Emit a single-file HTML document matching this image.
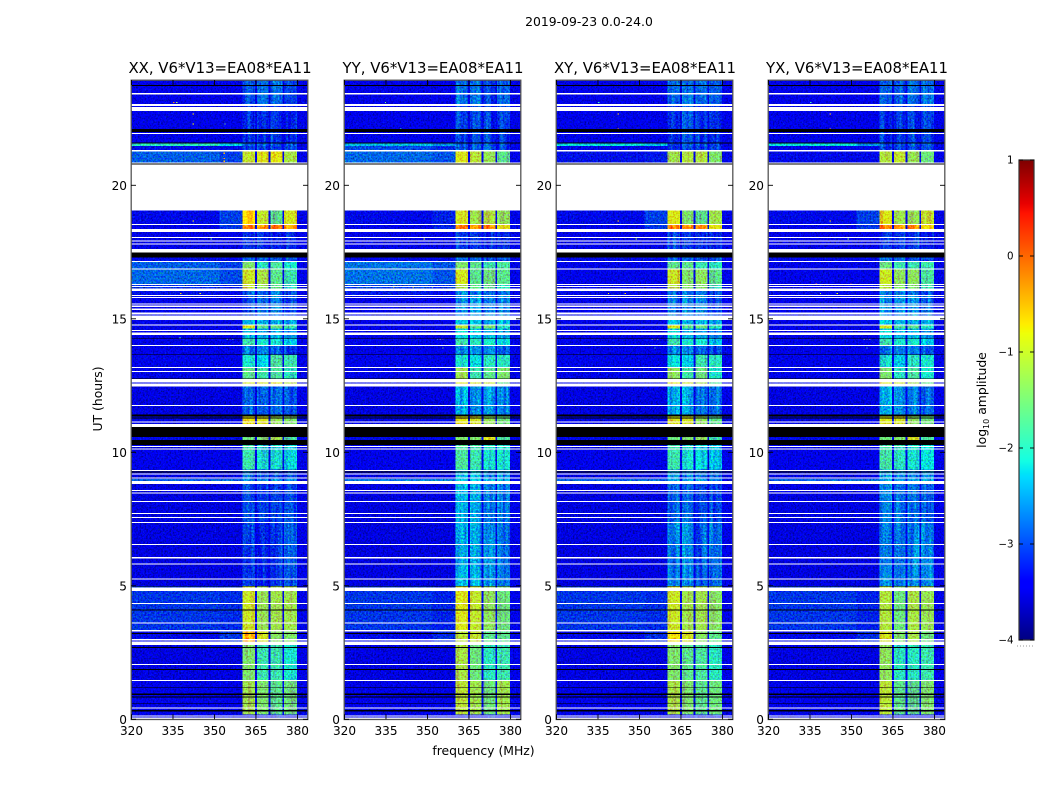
<!DOCTYPE html>
<html>
<head>
<meta charset="utf-8">
<title>2019-09-23 0.0-24.0</title>
<style>
html,body{margin:0;padding:0;background:#fff;}
svg{display:block;font-family:"DejaVu Sans","Liberation Sans",sans-serif;}
</style>
</head>
<body>
<svg id="chart" width="1050" height="800" viewBox="0 0 1050 800" xmlns="http://www.w3.org/2000/svg">
  <defs>
    <filter id="grain" filterUnits="userSpaceOnUse" x="0" y="0" width="1050" height="800" color-interpolation-filters="sRGB">
      <feTurbulence type="fractalNoise" baseFrequency="0.6 0.55" numOctaves="2" seed="7" result="t"/>
      <feColorMatrix in="t" type="matrix" values="0 0 0 0 0.614  1.6 0 0 0 -0.3  0 1.6 0 0 -0.3  0 0 0 0 1" result="n"/>
      <feComposite in="SourceGraphic" in2="n" operator="arithmetic" k1="0.35" k2="0.8" k3="0.4" k4="-0.25" result="mixed"/>
      <feComposite in="mixed" in2="SourceAlpha" operator="in"/>
    </filter>
    <filter id="streaks" filterUnits="userSpaceOnUse" x="0" y="0" width="1050" height="800" color-interpolation-filters="sRGB">
      <feTurbulence type="fractalNoise" baseFrequency="0.3 0.012" numOctaves="2" seed="11" result="t"/>
      <feColorMatrix in="t" type="matrix" values="0 0 0 0 0.5  1.6 0 0 0 -0.3  0 0 0 0 0.5  0 0 0 0 1" result="n"/>
      <feComposite in="SourceGraphic" in2="n" operator="arithmetic" k1="0" k2="1" k3="0.5" k4="-0.25" result="mixed"/>
      <feComposite in="mixed" in2="SourceAlpha" operator="in"/>
    </filter>
  </defs>
  <text x="589" y="26" font-size="12.4" text-anchor="middle">2019-09-23 0.0-24.0</text>
  <text x="483.5" y="755" font-size="12.4" text-anchor="middle">frequency (MHz)</text>
  <text x="102" y="399" font-size="12.4" text-anchor="middle" transform="rotate(-90 102 399)">UT (hours)</text>
  <text x="986" y="400" font-size="12.4" text-anchor="middle" transform="rotate(-90 986 400)">log<tspan font-size="8" dy="3">10</tspan><tspan dy="-3"> amplitude</tspan></text>
  <g id="panels"></g>
  <g id="colorbar"></g>
</svg>
<script>
// ---- data: categories and axis ticks ----
const panelTitles = ["XX, V6*V13=EA08*EA11", "YY, V6*V13=EA08*EA11", "XY, V6*V13=EA08*EA11", "YX, V6*V13=EA08*EA11"];
const freqTicks = [320, 335, 350, 365, 380];
const utTicks = [0, 5, 10, 15, 20];
const colorTicks = [-4, -3, -2, -1, 0, 1];
const freqRange = [320, 384];
const utRange = [0, 23.95];
const colorRange = [-4, 1];

// Frequency spans (MHz): left background, right background, four bright sub-bands.
const bgLeftSpan = [320, 352];
const bgRightSpan = [352, 360.4];
const bandSpans = [[360.4, 364.8], [365.5, 369.8], [370.5, 374.7], [375.4, 380]];
const gapSpans = [[364.8, 365.5], [369.8, 370.5], [374.7, 375.4], [380, 384]];
const gapLevel = -3.35;

// Time spans (UT hours) of each block of levels.
const segmentSpans = [
[23.0,23.95],[21.6,23.0],[21.47,21.6],[21.3,21.47],[20.8,21.3],[18.55,19.05],[18.37,18.55],[17.6,18.37],
[17.14,17.48],[16.89,17.14],[16.3,16.89],[16.04,16.3],[15.9,16.04],[14.96,15.9],[14.74,14.96],[14.64,14.74],
[14.27,14.64],[14.0,14.27],[13.66,14.0],[13.2,13.66],[12.77,13.2],[12.57,12.77],[11.4,12.57],[11.06,11.4],
[10.46,10.95],[9.35,10.46],[9.0,9.35],[8.93,9.0],[7.4,8.93],[4.97,7.4],[3.3,4.97],[2.9,3.3],[1.45,2.9],[0.18,1.45],[0,0.18]];

// log10 amplitude per segment: [bgLeft, bgRight, band1, band2, band3, band4]
const xxLevels = [
[-3.45,-3.45,-2.9,-2.8,-2.75,-3.0],[-3.45,-3.45,-3.05,-3.1,-3.0,-3.15],[-2.0,-2.3,-2.8,-2.8,-2.9,-2.9],[-3.3,-3.3,-3,-3,-3,-3],
[-2.85,-3.0,-1.1,-.95,-.9,-1.25],[-3.3,-3.0,-.7,-1.1,-1.7,-1],[-3.4,-3.05,-.2,-.3,-.25,-.35],[-3.45,-3.45,-3.1,-3.1,-3.15,-3.15],
[-3.3,-3.3,-2.8,-2.8,-2.95,-2.95],[-2.85,-3.0,-1.5,-2,-1.8,-2.1],[-2.8,-2.95,-1.05,-1.25,-1.7,-1.9],[-3.1,-3.2,-1.1,-1.4,-1.7,-2],
[-3.25,-3.3,-2.8,-2.8,-2.8,-2.9],[-3.45,-3.45,-2.95,-2.75,-2.8,-2.95],[-3.4,-3.4,-2.4,-2.4,-2.5,-2.5],[-3.4,-3.4,-.95,-1.7,-1.6,-1.9],
[-3.4,-3.4,-2.4,-2.5,-2.4,-2.6],[-3.35,-3.35,-1.9,-2.1,-2.1,-2.3],[-3.45,-3.45,-2.75,-2.7,-2.8,-3.05],[-3.35,-3.4,-2.1,-2.3,-1.8,-1.9],
[-3.35,-3.4,-1.7,-1.9,-1.8,-2],[-3.3,-3.3,-1,-1,-.9,-1.2],[-3.5,-3.5,-2.8,-2.9,-2.8,-2.9],[-3.35,-3.35,-.85,-.95,-1.35,-1.5],
[-3.3,-3.3,-1.6,-1.5,-1.3,-1.8],[-3.45,-3.45,-1.9,-2.1,-2.1,-2.2],[-3.5,-3.45,-2.75,-2.9,-2.9,-2.9],[-2.8,-2.8,-2.6,-2.6,-2.5,-2.5],
[-3.5,-3.5,-2.95,-3.05,-3.0,-2.95],[-3.5,-3.5,-3.0,-3.2,-3.05,-2.9],[-3.05,-3.1,-1.05,-1.35,-1.3,-1.3],[-3.3,-3.05,-.5,-1,-1.45,-1.5],
[-3.5,-3.5,-1.5,-1.9,-1.9,-2.1],[-3.4,-3.4,-1.3,-1.5,-1.7,-1.6],[-3.35,-3.35,-3.35,-3.35,-3.35,-3.35]];
const yyLevels = [
[-3.45,-3.45,-2.8,-2.8,-3.0,-2.9],[-3.45,-3.45,-3.05,-3.05,-3.1,-3.05],[-2.4,-2.6,-2.9,-2.9,-3,-3],[-2.95,-3.1,-2.9,-2.9,-2.9,-3],
[-2.8,-2.9,-.95,-1.15,-1.35,-1.7],[-3.3,-3.15,-1,-1.3,-1.2,-1.4],[-3.4,-3.15,-.2,-.4,-.3,-.9],[-3.45,-3.45,-3,-3.05,-3.15,-3.05],
[-3.3,-3.3,-2.8,-2.8,-2.95,-2.95],[-2.75,-2.9,-1.5,-1.7,-1.9,-1.8],[-2.75,-2.9,-1,-1.7,-1.6,-1.7],[-3,-3.1,-1.3,-1.7,-1.7,-2],
[-3.2,-3.3,-2.6,-2.7,-2.7,-2.8],[-3.45,-3.45,-2.6,-2.5,-2.6,-2.7],[-3.4,-3.4,-2.3,-2.3,-2.4,-2.4],[-3.4,-3.4,-1.1,-1.7,-1.5,-2],
[-3.4,-3.4,-2.2,-2.3,-2.4,-2.5],[-3.35,-3.35,-1.9,-2,-2.1,-2.2],[-3.45,-3.45,-2.6,-2.6,-2.7,-2.85],[-3.35,-3.4,-2.1,-2.2,-2,-2],
[-3.35,-3.4,-1.3,-1.9,-1.7,-1.5],[-3.3,-3.3,-.95,-1,-1.1,-1.7],[-3.5,-3.5,-2.45,-2.6,-2.6,-2.7],[-3.35,-3.35,-.9,-1,-1.35,-1.6],
[-3.3,-3.3,-1.5,-1.5,-.95,-1.8],[-3.45,-3.45,-1.8,-1.9,-2.1,-2.1],[-3.5,-3.45,-2.4,-2.4,-2.7,-2.6],[-2.7,-2.7,-2.3,-2.3,-2.4,-2.4],
[-3.5,-3.5,-2.4,-2.5,-2.7,-2.7],[-3.5,-3.5,-2.35,-2.4,-2.6,-2.7],[-3.05,-3.15,-.95,-1.1,-1.4,-1.6],[-3.3,-3.1,-1.15,-1.1,-1.7,-1.7],
[-3.5,-3.5,-1.25,-1.6,-2,-1.9],[-3.4,-3.4,-1.15,-1.3,-1.6,-1.3],[-3.35,-3.35,-3.35,-3.35,-3.35,-3.35]];
const xyLevels = [
[-3.45,-3.45,-2.8,-2.8,-2.75,-2.9],[-3.45,-3.45,-3,-3,-3,-3.1],[-2.2,-2.4,-2.9,-2.9,-2.9,-3],[-3.35,-3.3,-3,-3,-3,-3],
[-3.25,-3.2,-1.3,-1.2,-1.2,-1.5],[-3.3,-3.0,-.95,-1.5,-1.7,-1.3],[-3.4,-3.05,-.2,-.3,-.4,-.9],[-3.45,-3.45,-3,-3.05,-3.05,-3.15],
[-3.3,-3.3,-2.8,-2.8,-2.95,-2.95],[-3.35,-3.35,-1.7,-1.7,-1.9,-2],[-3.35,-3.35,-1.05,-1.5,-1.4,-1.7],[-3.35,-3.35,-1.2,-1.5,-1.5,-1.9],
[-3.3,-3.35,-2.8,-2.7,-2.8,-2.9],[-3.45,-3.45,-2.75,-2.6,-2.7,-2.95],[-3.4,-3.4,-2.3,-2.4,-2.4,-2.5],[-3.4,-3.4,-.95,-1.7,-1.6,-2],
[-3.4,-3.4,-2.2,-2.4,-2.5,-2.7],[-3.35,-3.35,-1.9,-2.1,-2.1,-2.4],[-3.45,-3.45,-2.65,-2.65,-2.8,-3],[-3.35,-3.4,-2.2,-2.3,-1.9,-2],
[-3.35,-3.4,-1.4,-1.9,-1.6,-2.1],[-3.3,-3.3,-.95,-1.05,-1.3,-1.8],[-3.5,-3.5,-2.45,-2.5,-2.7,-2.8],[-3.35,-3.35,-.95,-1,-1.4,-1.7],
[-3.3,-3.3,-1.6,-1.5,-1.4,-1.9],[-3.45,-3.45,-1.9,-2.1,-2.2,-2.3],[-3.5,-3.45,-2.6,-2.7,-2.8,-2.8],[-2.8,-2.8,-2.5,-2.5,-2.5,-2.6],
[-3.5,-3.5,-2.85,-2.85,-3,-3],[-3.5,-3.5,-2.65,-2.65,-2.9,-2.8],[-3.05,-3.1,-1.05,-1.3,-1.3,-1.45],[-3.3,-3.1,-.8,-1,-1.45,-1.7],
[-3.5,-3.5,-1.5,-1.7,-1.8,-2],[-3.4,-3.4,-1.25,-1.5,-1.7,-1.6],[-3.35,-3.35,-3.35,-3.35,-3.35,-3.35]];
const yxLevels = [
[-3.45,-3.45,-2.8,-2.9,-2.8,-2.8],[-3.45,-3.45,-3.05,-3.05,-3.05,-3.1],[-2.2,-2.6,-2.9,-2.9,-2.9,-3],[-3.35,-3.3,-3,-3,-3,-3],
[-3.3,-3.3,-1.2,-1.1,-1.35,-1.6],[-3.3,-3.0,-.95,-1.3,-1.35,-1.1],[-3.4,-3.05,-.2,-.4,-.3,-.8],[-3.45,-3.45,-3.05,-3.05,-3.05,-3.15],
[-3.3,-3.3,-2.8,-2.8,-2.95,-2.95],[-3.35,-3.35,-1.6,-1.9,-1.9,-1.9],[-3.35,-3.35,-1.05,-1.4,-1.4,-1.8],[-3.35,-3.35,-1.2,-1.5,-1.5,-1.9],
[-3.3,-3.35,-2.8,-2.7,-2.8,-2.9],[-3.45,-3.45,-2.7,-2.6,-2.6,-2.8],[-3.4,-3.4,-2.3,-2.4,-2.4,-2.5],[-3.4,-3.4,-1,-1.8,-1.7,-2],
[-3.4,-3.4,-2.2,-2.4,-2.4,-2.6],[-3.35,-3.35,-1.9,-2.1,-2.1,-2.3],[-3.45,-3.45,-2.7,-2.7,-2.7,-2.9],[-3.35,-3.4,-2.1,-2.3,-2,-2.1],
[-3.35,-3.4,-1.5,-2,-1.8,-2.1],[-3.3,-3.3,-.95,-1.05,-1.3,-1.7],[-3.5,-3.5,-2.5,-2.6,-2.7,-2.8],[-3.35,-3.35,-.95,-1,-1.4,-1.6],
[-3.3,-3.3,-1.6,-1.5,-1,-1.8],[-3.45,-3.45,-1.85,-2,-2.1,-2.2],[-3.5,-3.45,-2.5,-2.6,-2.7,-2.7],[-2.8,-2.8,-2.5,-2.5,-2.5,-2.5],
[-3.5,-3.5,-2.65,-2.75,-2.75,-2.85],[-3.5,-3.5,-2.6,-2.7,-2.65,-2.65],[-3.05,-3.15,-1.2,-1.6,-1.25,-1.35],[-3.3,-3.1,-1,-1.5,-1.25,-1.6],
[-3.5,-3.5,-1.4,-2,-2,-1.9],[-3.4,-3.4,-1.15,-1.7,-1.7,-1.5],[-3.35,-3.35,-3.35,-3.35,-3.35,-3.35]];

// Isolated interference spots: [UT, MHz, log10 amplitude]
const xxSpots = [[23.1,335.5,-.2],[23.1,336.5,-1.2],[22.67,342.5,-.6],[22.3,342.5,-.8],[22.3,354,-1.4],[21.2,353.7,-.4],[21,353.7,-.3],[20.9,353.7,-.5],[18.67,342.5,-.7],[17.99,349,-1.6],[15.95,345,-.8],[15.95,338,-.6],[14.24,355.8,-.1],[14.24,354.8,-1.5],[14.24,356.8,-1.5],[14.29,337.7,-1.8]];
const yySpots = [[23.1,335,-1.5],[22.1,340.5,-2],[17.99,349,-.8],[16.2,338,-.8],[16.2,345,-.6],[16.2,352,-.9],[14.24,355.8,-.1],[14.24,354.8,-1],[14.24,353.8,-1.6],[13.9,355.8,-1.5]];
const xySpots = [[23.1,335.5,-1.8],[22.67,342.5,-.5],[22.1,342.5,-.3],[18.67,342.5,-.5],[17.99,349,-1.2],[15.95,339,-.7],[15.95,345,-.6],[14.24,355.8,-.2],[14.24,354.8,-1.2],[14.24,356.8,-1.2],[13.9,355.8,-1.8]];
const yxSpots = [[23.1,335.5,-1.8],[22.67,342.5,-.5],[22.1,342.5,-.3],[18.67,342.5,-.5],[17.99,349,-1.5],[16.3,337.5,-.1],[16.3,350,-.1],[15.95,339,-1.2],[15.95,345,-.8],[14.24,355.8,-.3],[14.24,354.8,-1.2],[14.24,356.8,-1.2],[13.9,355.8,-1.8]];

// Flagged time ranges (UT hours): blank rows and zero-amplitude rows, common to all panels.
const blankRows = [[23.41,23.45],[22.97,23.04],[22.79,22.93],[21.92,21.95],[21.26,21.32],[20.82,20.86],[19.05,20.77],[18.51,18.55],[18.26,18.37],[18.02,18.06],[17.89,17.93],[17.78,17.82],[17.48,17.61],[17.13,17.17],[16.85,16.89],[16.26,16.30],[16.19,16.23],[16.04,16.14],[15.85,15.89],[15.78,15.82],[15.54,15.58],[15.45,15.49],[15.33,15.39],[15.17,15.24],[14.96,15.12],[14.74,14.79],[14.54,14.58],[14.39,14.48],[13.98,14.02],[13.15,13.19],[13.0,13.04],[12.62,12.74],[12.46,12.57],[11.73,11.77],[11.11,11.15],[10.95,11.06],[10.20,10.24],[10.10,10.15],[9.30,9.34],[9.17,9.21],[9.01,9.05],[8.81,8.93],[8.55,8.59],[8.46,8.50],[8.14,8.18],[7.68,7.72],[7.54,7.58],[7.35,7.39],[6.53,6.57],[6.03,6.07],[5.80,5.84],[5.24,5.28],[4.81,4.93],[4.32,4.36],[3.59,3.63],[3.28,3.34],[2.96,3.0],[2.78,2.91],[2.03,2.07],[1.43,1.47],[0.41,0.45],[0.11,0.15],[0,0.06]];
const zeroRows = [[23.72,23.76],[21.99,22.11],[21.56,21.60],[20.78,20.82],[17.29,17.48],[14.24,14.27],[13.64,13.67],[12.74,12.77],[11.35,11.42],[11.27,11.30],[10.57,10.94],[10.27,10.46],[9.25,9.28],[4.97,5.0],[4.08,4.11],[3.20,3.23],[2.68,2.71],[1.85,1.88],[1.17,1.2],[0.91,0.97],[0.82,0.85],[0.57,0.6],[0.30,0.35]];

const panelLevels = [xxLevels, yyLevels, xyLevels, yxLevels];
const panelSpots = [xxSpots, yySpots, xySpots, yxSpots];

// ---- layout and axis functions ----
const panelLefts = [131, 344, 556, 768];
const panelWidth = 177;
const axisTop = 80, axisBottom = 719.3, pxPerHour = 26.7;
const SVGNS = "http://www.w3.org/2000/svg";
function scaleX(left, f) { return left + (f - freqRange[0]) * panelWidth / (freqRange[1] - freqRange[0]); }
function scaleY(ut) { return axisBottom - ut * pxPerHour; }
function interp(pts, t) {
  for (let i = 1; i < pts.length; i++) {
    if (t <= pts[i][0]) {
      const a = pts[i - 1], b = pts[i];
      return a[1] + (b[1] - a[1]) * (t - a[0]) / (b[0] - a[0]);
    }
  }
  return pts[pts.length - 1][1];
}
function jet(level) {
  const t = Math.max(0, Math.min(1, (level - colorRange[0]) / (colorRange[1] - colorRange[0])));
  const r = interp([[0,0],[.35,0],[.66,1],[.89,1],[1,.5]], t);
  const g = interp([[0,0],[.125,0],[.375,1],[.64,1],[.91,0],[1,0]], t);
  const b = interp([[0,.5],[.11,1],[.34,1],[.65,0],[1,0]], t);
  return "rgb(" + Math.round(r * 255) + "," + Math.round(g * 255) + "," + Math.round(b * 255) + ")";
}
function make(tag, parent, attrs, text) {
  const node = document.createElementNS(SVGNS, tag);
  for (const k in attrs) node.setAttribute(k, attrs[k]);
  if (text !== undefined) node.textContent = text;
  parent.appendChild(node);
  return node;
}
function cell(parent, left, f0, f1, ut0, ut1, fill) {
  const x0 = scaleX(left, f0), x1 = scaleX(left, f1), y0 = scaleY(ut1), y1 = scaleY(ut0);
  return make("rect", parent, { x: x0, y: y0, width: x1 - x0, height: Math.max(y1 - y0, 0.9), fill: fill, "shape-rendering": "crispEdges" });
}

// ---- panels ----
const panelsRoot = document.getElementById("panels");
panelTitles.forEach(function (title, p) {
  const left = panelLefts[p];
  const pol = title.slice(0, 2).toLowerCase();
  const g = make("g", panelsRoot, {});
  
  

  const heat = make("g", g, { filter: "url(#grain)" });
  
  
  const base = cell(heat, left, freqRange[0], freqRange[1], utRange[0], utRange[1], jet(gapLevel));
  
  
  const bandLayer = make("g", heat, { filter: "url(#streaks)" });
  
  

  segmentSpans.forEach(function (span, s) {
    const row = panelLevels[p][s];
    [bgLeftSpan, bgRightSpan].forEach(function (fs, c) {
      const bc = cell(heat, left, fs[0], fs[1], span[0], span[1], jet(row[c]));
      
      
    });
    gapSpans.forEach(function (fs) {
      const level = Math.min(gapLevel, Math.max(row[0], row[1]) + 0.1);
      const gc = cell(heat, left, fs[0], fs[1], span[0], span[1], jet(level));
      
      
    });
    bandSpans.forEach(function (fs, c) {
      const rc = cell(bandLayer, left, fs[0], fs[1], span[0], span[1], jet(row[c + 2]));
      
      
    });
  });
  heat.appendChild(bandLayer);

  panelSpots[p].forEach(function (sp) {
    const spot = cell(g, left, sp[1] - 0.25, sp[1] + 0.25, sp[0] - 0.02, sp[0] + 0.02, jet(sp[2]));
    
    
  });
  blankRows.forEach(function (r) {
    const w = cell(g, left, freqRange[0], freqRange[1], r[0], r[1], "#ffffff");
    
    
  });
  zeroRows.forEach(function (r) {
    const k = cell(g, left, freqRange[0], freqRange[1], r[0], r[1], "#000000");
    
    
  });

  const frame = make("rect", g, { x: left + 0.2, y: axisTop + 0.2, width: panelWidth - 0.4, height: axisBottom - axisTop, fill: "none", stroke: "#555", "stroke-width": 1.3 });
  
  

  const ttl = make("text", g, { x: left + panelWidth / 2 + 0.5, y: 73, "font-size": 14.9, "text-anchor": "middle" }, title);
  
  

  freqTicks.forEach(function (f) {
    const x = scaleX(left, f) + 0.5;
    const t1 = make("line", g, { x1: x, x2: x, y1: axisBottom, y2: axisBottom - 5, stroke: "#000", "stroke-width": 0.9 });
    
    
    const t2 = make("line", g, { x1: x, x2: x, y1: axisTop, y2: axisTop + 5, stroke: "#000", "stroke-width": 0.9 });
    
    
    const lab = make("text", g, { x: x, y: 735, "font-size": 12.1, "text-anchor": "middle" }, String(f));
    
    
  });
  utTicks.forEach(function (u) {
    const y = scaleY(u);
    const t1 = make("line", g, { x1: left, x2: left + 5, y1: y, y2: y, stroke: "#000", "stroke-width": 0.9 });
    
    
    const t2 = make("line", g, { x1: left + panelWidth, x2: left + panelWidth - 5, y1: y, y2: y, stroke: "#000", "stroke-width": 0.9 });
    
    
    const lab = make("text", g, { x: left - 4, y: y + 4.5, "font-size": 12.1, "text-anchor": "end" }, String(u));
    
    
  });
});

// ---- colorbar ----
const cbLeft = 1019, cbWidth = 15, cbTop = 160, cbBottom = 640;
function scaleColor(v) { return cbBottom - (v - colorRange[0]) * (cbBottom - cbTop) / (colorRange[1] - colorRange[0]); }
const cbRoot = document.getElementById("colorbar");
const cbSteps = 240;
for (let i = 0; i < cbSteps; i++) {
  const v0 = colorRange[0] + (colorRange[1] - colorRange[0]) * i / cbSteps;
  const v1 = colorRange[0] + (colorRange[1] - colorRange[0]) * (i + 1) / cbSteps;
  const swatch = make("rect", cbRoot, { x: cbLeft, y: scaleColor(v1), width: cbWidth, height: scaleColor(v0) - scaleColor(v1) + 0.5, fill: jet((v0 + v1) / 2), "shape-rendering": "crispEdges" });
  
  
}
const cbFrame = make("rect", cbRoot, { x: cbLeft, y: cbTop, width: cbWidth, height: cbBottom - cbTop, fill: "none", stroke: "#333", "stroke-width": 1.2 });


colorTicks.forEach(function (v) {
  const y = scaleColor(v);
  const t1 = make("line", cbRoot, { x1: cbLeft, x2: cbLeft + 4, y1: y, y2: y, stroke: "#000", "stroke-width": 0.9 });
  
  
  const t2 = make("line", cbRoot, { x1: cbLeft + cbWidth, x2: cbLeft + cbWidth - 4, y1: y, y2: y, stroke: "#000", "stroke-width": 0.9 });
  
  
  const lab = make("text", cbRoot, { x: cbLeft - 5.5, y: y + 3.5, "font-size": 10.3, "text-anchor": "end" }, String(v).replace("-", "\u2212"));
  
  
});
const cbDots = make("line", cbRoot, { x1: cbLeft - 2, x2: cbLeft + cbWidth + 1, y1: 646, y2: 646, stroke: "#999", "stroke-width": 1, "stroke-dasharray": "1 2" });


</script>
</body>
</html>
